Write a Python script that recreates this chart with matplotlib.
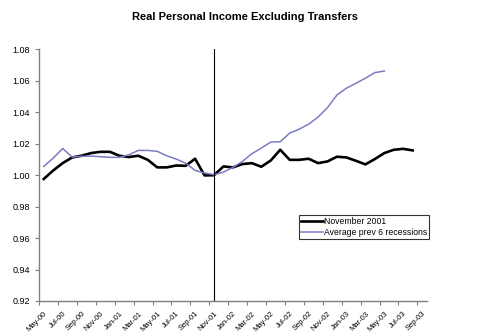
import numpy as np
import matplotlib.pyplot as plt

plt.rcParams['font.family'] = ['Liberation Sans', 'DejaVu Sans']

# Monthly categories May-00 .. Sep-03, every other one labelled
months = ['May-00', 'Jun-00', 'Jul-00', 'Aug-00', 'Sep-00', 'Oct-00', 'Nov-00', 'Dec-00',
          'Jan-01', 'Feb-01', 'Mar-01', 'Apr-01', 'May-01', 'Jun-01', 'Jul-01', 'Aug-01',
          'Sep-01', 'Oct-01', 'Nov-01', 'Dec-01', 'Jan-02', 'Feb-02', 'Mar-02', 'Apr-02',
          'May-02', 'Jun-02', 'Jul-02', 'Aug-02', 'Sep-02', 'Oct-02', 'Nov-02', 'Dec-02',
          'Jan-03', 'Feb-03', 'Mar-03', 'Apr-03', 'May-03', 'Jun-03', 'Jul-03', 'Aug-03',
          'Sep-03']

nov_2001 = [0.9976, 1.0030, 1.0077, 1.0113, 1.0124, 1.0141, 1.0149, 1.0149, 1.0124, 1.0116,
            1.0124, 1.0098, 1.0050, 1.0050, 1.0062, 1.0060, 1.0105, 0.9999, 1.0000, 1.0056,
            1.0050, 1.0071, 1.0077, 1.0054, 1.0094, 1.0162, 1.0098, 1.0098, 1.0105, 1.0077,
            1.0088, 1.0118, 1.0113, 1.0092, 1.0069, 1.0103, 1.0141, 1.0162, 1.0168, 1.0158]

avg_prev6 = [1.0056, 1.0109, 1.0170, 1.0116, 1.0120, 1.0122, 1.0118, 1.0114, 1.0114, 1.0130,
             1.0158, 1.0158, 1.0152, 1.0124, 1.0103, 1.0077, 1.0031, 1.0015, 1.0003, 1.0020,
             1.0050, 1.0088, 1.0137, 1.0173, 1.0211, 1.0213, 1.0268, 1.0293, 1.0325, 1.0370,
             1.0431, 1.0511, 1.0554, 1.0585, 1.0617, 1.0653, 1.0663]

recession_start = 'Nov-01'

fig = plt.figure(figsize=(4.91, 3.36), dpi=100)
ax = fig.add_axes([0.0794, 0.1042, 0.790, 0.7485])

x = np.arange(len(months))
ax.plot(x[:len(nov_2001)], nov_2001, color='black', lw=1.9, label='November 2001')
ax.plot(x[:len(avg_prev6)], avg_prev6, color='#7b7bc6', lw=1.1, label='Average prev 6 recessions')
ax.axvline(months.index(recession_start), color='black', lw=0.8)

ax.set_xlim(-0.5, len(months) - 0.5)
ax.set_ylim(0.92, 1.08)
ax.set_yticks(np.arange(0.92, 1.0801, 0.02))
ax.yaxis.set_major_formatter(plt.FormatStrFormatter('%.2f'))

# tick marks between categories, labels on every other category
ax.set_xticks(np.arange(-0.5, len(months), 2), minor=True)
ax.set_xticks(x[::2])
ax.set_xticklabels(months[::2], rotation=45, ha='right', va='top', rotation_mode='anchor', fontsize=5.5)
ax.tick_params(axis='x', which='major', length=0, pad=6.5)
ax.tick_params(axis='x', which='minor', length=3, color='#808080', width=0.8)
ax.tick_params(axis='y', length=3, color='#808080', width=0.8, labelsize=6.5)

for s in ['top', 'right']:
    ax.spines[s].set_visible(False)
for s in ['left', 'bottom']:
    ax.spines[s].set_color('#808080')
    ax.spines[s].set_linewidth(1.0)

fig.text(0.5, 0.949, 'Real Personal Income Excluding Transfers', fontsize=8, fontweight='bold',
         ha='center', va='center')

leg = ax.legend(loc='upper left', bbox_to_anchor=(0.670, 0.342), fontsize=6.25, frameon=True,
                fancybox=False, edgecolor='black', borderpad=0.25, handlelength=2.5,
                handletextpad=0.1, labelspacing=0.2, borderaxespad=0)
leg.get_frame().set_linewidth(0.8)

fig.savefig('out.png', dpi=100)
